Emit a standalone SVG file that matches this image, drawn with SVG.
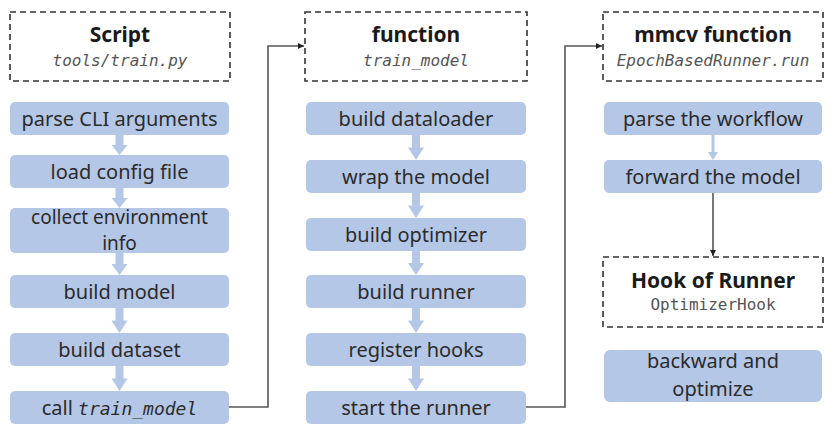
<svg xmlns="http://www.w3.org/2000/svg" width="835" height="442" viewBox="0 0 835 442">
<defs>
<style>
.bg{fill:#ffffff}
.hdr{fill:#ffffff;stroke:#333333;stroke-width:1.6;stroke-dasharray:6 4}
.box{fill:#b4c7e7}
.t{font-family:"Noto Sans","Open Sans",sans-serif;font-size:20px;fill:#2b2b2b;text-anchor:middle}
.t2{font-size:19px}
.h{font-family:"Noto Sans","Open Sans",sans-serif;font-size:21px;font-weight:bold;fill:#1a1a1a;text-anchor:middle}
.c{font-family:"DejaVu Sans Mono","Liberation Mono",monospace;font-size:16px;font-style:italic;fill:#555555;text-anchor:middle}
.cn{font-family:"DejaVu Sans Mono","Liberation Mono",monospace;font-size:16px;fill:#555555;text-anchor:middle}
.ci{font-family:"DejaVu Sans Mono","Liberation Mono",monospace;font-style:italic;font-size:18px}
.ba{fill:#b4c7e7}
.conn{fill:none;stroke:#555555;stroke-width:1.6}
</style>
<marker id="ah" viewBox="0 0 10 10" refX="10" refY="5" markerWidth="6" markerHeight="6" orient="auto" markerUnits="userSpaceOnUse">
<path d="M0,0 L10,5 L0,10 z" fill="#222222"/>
</marker>
<path id="fat" d="M-4,0 L4,0 L4,10 L8,10 L0,20 L-8,10 L-4,10 z"/>
</defs>
<rect class="bg" x="0" y="0" width="835" height="442"/>

<g id="col1-header"><rect class="hdr" x="10" y="12" width="220" height="69"/><text class="h" x="120" y="42">Script</text><text class="c" x="120" y="66">tools/train.py</text></g>
<g id="n-parse-cli"><rect class="box" x="10" y="102" width="219" height="33" rx="5"/><text class="t" x="119.5" y="125.5">parse CLI arguments</text></g>
<g id="n-load-config"><rect class="box" x="10" y="155" width="219" height="33" rx="5"/><text class="t" x="119.5" y="178.5">load config file</text></g>
<g id="n-collect-env"><rect class="box" x="10" y="208" width="219" height="45" rx="5"/><text class="t t2" x="119.5" y="223.5">collect environment<tspan x="119.5" dy="26">info</tspan></text></g>
<g id="n-build-model"><rect class="box" x="10" y="275" width="219" height="33" rx="5"/><text class="t" x="119.5" y="298.5">build model</text></g>
<g id="n-build-dataset"><rect class="box" x="10" y="333" width="219" height="33" rx="5"/><text class="t" x="119.5" y="356.5">build dataset</text></g>
<g id="n-call-train"><rect class="box" x="10" y="391" width="219" height="33" rx="5"/><text class="t" x="119.5" y="414.5">call <tspan class="ci">train_model</tspan></text></g>

<g id="col2-header"><rect class="hdr" x="305" y="12" width="222" height="69"/><text class="h" x="416" y="42">function</text><text class="c" x="416" y="66">train_model</text></g>
<g id="n-dataloader"><rect class="box" x="306" y="102" width="220" height="33" rx="5"/><text class="t" x="416" y="125.5">build dataloader</text></g>
<g id="n-wrap"><rect class="box" x="306" y="160" width="220" height="33" rx="5"/><text class="t" x="416" y="183.5">wrap the model</text></g>
<g id="n-optimizer"><rect class="box" x="306" y="218" width="220" height="33" rx="5"/><text class="t" x="416" y="241.5">build optimizer</text></g>
<g id="n-runner"><rect class="box" x="306" y="275" width="220" height="33" rx="5"/><text class="t" x="416" y="298.5">build runner</text></g>
<g id="n-hooks"><rect class="box" x="306" y="333" width="220" height="33" rx="5"/><text class="t" x="416" y="356.5">register hooks</text></g>
<g id="n-start"><rect class="box" x="306" y="391" width="220" height="33" rx="5"/><text class="t" x="416" y="414.5">start the runner</text></g>

<g id="col3-header"><rect class="hdr" x="603" y="12" width="220" height="69"/><text class="h" x="713" y="42">mmcv function</text><text class="c" x="713" y="66">EpochBasedRunner.run</text></g>
<g id="n-workflow"><rect class="box" x="604" y="102" width="218" height="33" rx="5"/><text class="t" x="713" y="125.5">parse the workflow</text></g>
<g id="n-forward"><rect class="box" x="604" y="160" width="218" height="33" rx="5"/><text class="t" x="713" y="183.5">forward the model</text></g>
<g id="hook-header"><rect class="hdr" x="603" y="257" width="220" height="70"/><text class="h" x="713" y="288">Hook of Runner</text><text class="cn" x="713" y="310">OptimizerHook</text></g>
<g id="n-backward"><rect class="box" x="604" y="350" width="218" height="52" rx="6"/><text class="t" x="713" y="368">backward and<tspan x="713" dy="27.5">optimize</tspan></text></g>

<g id="connectors">
<use href="#fat" class="ba" x="119.5" y="135"/>
<use href="#fat" class="ba" x="119.5" y="188"/>
<use href="#fat" class="ba" transform="translate(119.5,253) scale(1,1.1)"/>
<use href="#fat" class="ba" transform="translate(119.5,308) scale(1,1.25)"/>
<use href="#fat" class="ba" transform="translate(119.5,366) scale(1,1.25)"/>
<use href="#fat" class="ba" transform="translate(416,135) scale(1,1.25)"/>
<use href="#fat" class="ba" transform="translate(416,193) scale(1,1.25)"/>
<use href="#fat" class="ba" transform="translate(416,251) scale(1,1.2)"/>
<use href="#fat" class="ba" transform="translate(416,308) scale(1,1.25)"/>
<use href="#fat" class="ba" transform="translate(416,366) scale(1,1.25)"/>
<path class="ba" d="M711.5,135 L714.5,135 L714.5,152 L718,152 L713,160 L708,152 L711.5,152 z"/>
<path class="conn" d="M229,407 L268,407 L268,46 L304,46" marker-end="url(#ah)"/>
<path class="conn" d="M526,407 L565,407 L565,46 L602,46" marker-end="url(#ah)"/>
<path class="conn" d="M713,193 L713,256" marker-end="url(#ah)"/>
</g>
</svg>
